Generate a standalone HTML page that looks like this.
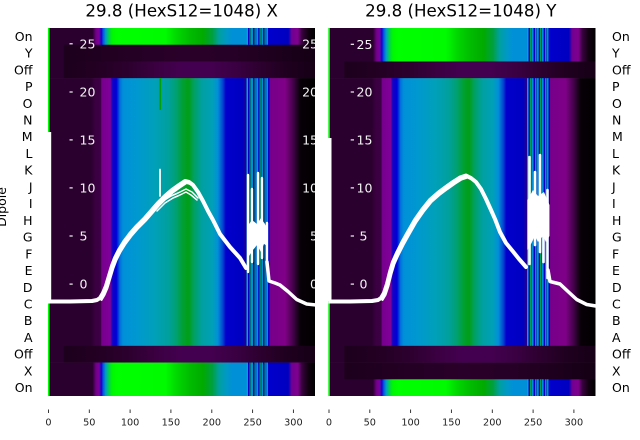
<!DOCTYPE html>
<html><head><meta charset="utf-8">
<style>html,body{margin:0;padding:0;background:#fff;}svg{display:block;}</style>
</head>
<body>
<svg width="640" height="440" viewBox="0 0 640 440" xmlns="http://www.w3.org/2000/svg" font-family="'DejaVu Sans','Liberation Sans',sans-serif">
<defs>
<linearGradient id="gD" x1="0" y1="0" x2="1" y2="0">
<stop offset="0" stop-color="#2a002e"/><stop offset="0.16" stop-color="#2a002e"/>
<stop offset="0.175" stop-color="#3a0040"/><stop offset="0.195" stop-color="#3c0044"/>
<stop offset="0.2" stop-color="#76008c"/><stop offset="0.232" stop-color="#80009a"/>
<stop offset="0.238" stop-color="#1800c0"/><stop offset="0.255" stop-color="#0000d8"/>
<stop offset="0.268" stop-color="#0070dc"/><stop offset="0.28" stop-color="#0090d8"/>
<stop offset="0.33" stop-color="#0098d0"/><stop offset="0.40" stop-color="#00a0b8"/>
<stop offset="0.45" stop-color="#00a09c"/><stop offset="0.48" stop-color="#00a070"/>
<stop offset="0.505" stop-color="#00a030"/><stop offset="0.525" stop-color="#009e18"/>
<stop offset="0.545" stop-color="#00a060"/><stop offset="0.575" stop-color="#00a0a0"/>
<stop offset="0.615" stop-color="#00a0b8"/><stop offset="0.635" stop-color="#0090d8"/>
<stop offset="0.655" stop-color="#0040d0"/><stop offset="0.665" stop-color="#0000cc"/>
<stop offset="0.73" stop-color="#0000c0"/><stop offset="0.74" stop-color="#200090"/>
<stop offset="0.83" stop-color="#76008a"/><stop offset="0.887" stop-color="#800088"/>
<stop offset="0.915" stop-color="#4a0050"/><stop offset="0.944" stop-color="#080008"/>
<stop offset="1" stop-color="#000000"/>
</linearGradient>
<linearGradient id="gOn" x1="0" y1="0" x2="1" y2="0">
<stop offset="0" stop-color="#2a002e"/><stop offset="0.165" stop-color="#2a002e"/>
<stop offset="0.178" stop-color="#700088"/><stop offset="0.19" stop-color="#7c009a"/>
<stop offset="0.198" stop-color="#1000d0"/><stop offset="0.206" stop-color="#0060e0"/>
<stop offset="0.215" stop-color="#00a0c0"/><stop offset="0.228" stop-color="#00d840"/>
<stop offset="0.24" stop-color="#00f800"/><stop offset="0.26" stop-color="#00ff00"/>
<stop offset="0.44" stop-color="#00fa00"/><stop offset="0.48" stop-color="#00d800"/>
<stop offset="0.53" stop-color="#00bc00"/><stop offset="0.58" stop-color="#00aa00"/>
<stop offset="0.615" stop-color="#00a040"/><stop offset="0.64" stop-color="#00a0a0"/>
<stop offset="0.67" stop-color="#0098c8"/><stop offset="0.69" stop-color="#0090d8"/>
<stop offset="0.74" stop-color="#0090d8"/><stop offset="0.83" stop-color="#0000cc"/>
<stop offset="0.9" stop-color="#0000c0"/><stop offset="0.912" stop-color="#700090"/>
<stop offset="0.935" stop-color="#800090"/><stop offset="0.95" stop-color="#3a0040"/>
<stop offset="0.975" stop-color="#100010"/><stop offset="1" stop-color="#000000"/>
</linearGradient>
<linearGradient id="gOff" x1="0" y1="0" x2="1" y2="0">
<stop offset="0" stop-color="#2a002e"/><stop offset="0.055" stop-color="#2a002e"/>
<stop offset="0.06" stop-color="#1c001c"/><stop offset="0.2" stop-color="#240024"/>
<stop offset="0.3" stop-color="#2c002e"/><stop offset="0.4" stop-color="#3a0040"/>
<stop offset="0.5" stop-color="#440050"/><stop offset="0.6" stop-color="#440050"/>
<stop offset="0.7" stop-color="#3a0042"/><stop offset="0.8" stop-color="#2c002e"/>
<stop offset="0.9" stop-color="#1e001e"/><stop offset="1" stop-color="#160016"/>
</linearGradient>
<linearGradient id="gDk" x1="0" y1="0" x2="1" y2="0">
<stop offset="0" stop-color="#2a002e"/><stop offset="0.055" stop-color="#2a002e"/>
<stop offset="0.06" stop-color="#1c001c"/><stop offset="0.3" stop-color="#240024"/>
<stop offset="0.5" stop-color="#290029"/><stop offset="0.7" stop-color="#260026"/>
<stop offset="0.9" stop-color="#1a001a"/><stop offset="1" stop-color="#140014"/>
</linearGradient>
<clipPath id="cL"><rect x="48" y="28" width="267" height="368"/></clipPath>
<clipPath id="cR"><rect x="328.5" y="28" width="267" height="368"/></clipPath>
<g id="st">
<rect x="0" y="0" width="23" height="1" fill="#0000c8"/>
<rect x="0" y="0" width="1.5" height="1" fill="#00a0d8"/>
<rect x="3" y="0" width="1.2" height="1" fill="#00a050"/>
<rect x="4.5" y="0" width="2" height="1" fill="#0090d8"/>
<rect x="8" y="0" width="1.3" height="1" fill="#00a050"/>
<rect x="9.7" y="0" width="2" height="1" fill="#0090d8"/>
<rect x="13" y="0" width="1.3" height="1" fill="#00a050"/>
<rect x="14.8" y="0" width="1.8" height="1" fill="#0090d8"/>
<rect x="18" y="0" width="1.3" height="1" fill="#00a050"/>
<rect x="19.7" y="0" width="1.8" height="1" fill="#0090d8"/>
</g>
</defs>

<!-- Titles -->
<text x="181.7" y="16.5" font-size="16.67" text-anchor="middle" fill="#000">29.8 (HexS12=1048) X</text>
<text x="460.8" y="16.5" font-size="16.67" text-anchor="middle" fill="#000">29.8 (HexS12=1048) Y</text>

<!-- LEFT heatmap -->
<rect x="48.5" y="28" width="266.5" height="17" fill="url(#gOn)"/>
<rect x="48.5" y="44.73" width="266.5" height="17" fill="url(#gDk)"/>
<rect x="48.5" y="61.45" width="266.5" height="17" fill="url(#gOff)"/>
<rect x="48.5" y="78.18" width="266.5" height="267.9" fill="url(#gD)"/>
<rect x="48.5" y="345.82" width="266.5" height="17" fill="url(#gOff)"/>
<rect x="48.5" y="362.55" width="266.5" height="33.45" fill="url(#gOn)"/>
<use href="#st" transform="translate(246.5,28) scale(1,16.73)"/>
<use href="#st" transform="translate(246.5,78.18) scale(1,267.64)"/>
<use href="#st" transform="translate(246.5,362.55) scale(1,33.45)"/>
<rect x="159.5" y="78" width="1.5" height="32" fill="#00a000"/>
<rect x="48" y="28" width="1.6" height="104" fill="#00ff00"/>
<rect x="48" y="132" width="3.2" height="168" fill="#ffffff"/>
<rect x="48" y="300" width="1.6" height="96" fill="#00ff00"/>

<!-- RIGHT heatmap -->
<rect x="329" y="28" width="266.5" height="33.7" fill="url(#gOn)"/>
<rect x="329" y="61.45" width="266.5" height="17" fill="url(#gOff)"/>
<rect x="329" y="78.18" width="266.5" height="267.9" fill="url(#gD)"/>
<rect x="329" y="345.82" width="266.5" height="17" fill="url(#gOff)"/>
<rect x="329" y="362.55" width="266.5" height="17" fill="url(#gDk)"/>
<rect x="329" y="379.27" width="266.5" height="16.73" fill="url(#gOn)"/>
<use href="#st" transform="translate(527,28) scale(1,33.45)"/>
<use href="#st" transform="translate(527,78.18) scale(1,267.64)"/>
<use href="#st" transform="translate(527,379.27) scale(1,16.73)"/>
<rect x="328.3" y="28" width="1.6" height="110" fill="#00ff00"/>
<rect x="328" y="138" width="3.5" height="163" fill="#ffffff"/>
<rect x="328.3" y="301" width="1.6" height="95" fill="#00ff00"/>

<!-- LEFT overlay axis labels -->
<g fill="#f4f4f4" font-size="12.5">
<rect x="69.5" y="43.2" width="3.2" height="1.2"/><text x="79.5" y="48.3">25</text>
<rect x="69.5" y="91.4" width="3.2" height="1.2"/><text x="79.5" y="96.5">20</text>
<rect x="69.5" y="139.3" width="3.2" height="1.2"/><text x="79.5" y="144.4">15</text>
<rect x="69.5" y="187.3" width="3.2" height="1.2"/><text x="79.5" y="192.4">10</text>
<rect x="69.5" y="235.4" width="3.2" height="1.2"/><text x="79.5" y="240.5">5</text>
<rect x="69.5" y="283.5" width="3.2" height="1.2"/><text x="79.5" y="288.6">0</text>
<g clip-path="url(#cL)" text-anchor="end">
<text x="318" y="48.3">25</text><text x="318" y="96.5">20</text><text x="318" y="144.4">15</text>
<text x="318" y="192.4">10</text><text x="318" y="240.5">5</text><text x="318" y="288.6">0</text>
</g>
</g>
<!-- RIGHT overlay axis labels -->
<g fill="#f4f4f4" font-size="12.5">
<rect x="350.7" y="43.7" width="3.3" height="1.2"/><text x="356.5" y="48.8">25</text>
<rect x="350.7" y="91.4" width="3.3" height="1.2"/><text x="356.5" y="96.5">20</text>
<rect x="350.7" y="139.3" width="3.3" height="1.2"/><text x="356.5" y="144.4">15</text>
<rect x="350.7" y="187.3" width="3.3" height="1.2"/><text x="356.5" y="192.4">10</text>
<rect x="350.7" y="235.4" width="3.3" height="1.2"/><text x="359.5" y="240.5">5</text>
<rect x="350.7" y="283.5" width="3.3" height="1.2"/><text x="359.5" y="288.6">0</text>
</g>

<!-- LEFT white curves -->
<path clip-path="url(#cL)" fill="#fff" d="M247.5,226 L252,220 L257,224 L261,218 L267.5,228 L267.5,246 L264,244 L261,252 L257,245 L253,250 L249,256 L247.5,254 Z"/>
<g clip-path="url(#cL)" fill="none" stroke="#fff" stroke-linejoin="round" stroke-linecap="round">
<polyline stroke-width="4" points="48.5,301.5 70,301.5 92,301 97,300 100,298 103,293 106,286 109,276 112,266 115,258 119,250 124,242 130,234 137,226 145,218 152,210 158,203 165,196 172,190 179,185 185,181 189,182 193,185 198,192 203,201 208,211 213,220 220,234 230,247 240,258 246,268"/>
<polyline stroke-width="2" transform="translate(1.5,2)" points="100,298 103,293 106,286 109,276 112,266 115,258 119,250 124,242 130,234 137,226 145,218 152,210 158,203 165,196 172,190 179,185 185,181 189,182 193,185 198,192 203,201 208,211 213,220 220,234 230,247 240,258"/>
<polyline stroke-width="1.5" points="155,209 163,201 171,196 178,193 186,189 192,192 198,198"/>
<polyline stroke-width="1.5" points="157,211 165,203 173,198 180,195 186,192 191,195 197,200"/>
<line x1="160" y1="196" x2="160" y2="169.5" stroke-width="1.8"/>
<path stroke-width="2.4" d="M248,272 L248,175 M252,262 L252,189 M258,264 L258,173 M262,258 L262,178 M267,264 L267,223"/>
<polyline stroke-width="3.5" points="267,262 269,281 275,283 280,285 288,291.5 296.7,299.5 306.7,304 316,305"/>
</g>

<!-- RIGHT white curves -->
<path clip-path="url(#cR)" fill="#fff" d="M527.5,200 L533,190 L538,196 L544,192 L549.5,205 L549.5,236 L546,242 L543,236 L538,242 L535,236 L531,244 L527.5,250 Z"/>
<g clip-path="url(#cR)" fill="none" stroke="#fff" stroke-linejoin="round" stroke-linecap="round">
<polyline stroke-width="4" points="329,301.5 350,301.5 372,301 378,300 381,298 384,293 387,284 390,272 393,262 397,253 402,243 407,234 415,220 422,210 430,200 438,193 446,187 453,182 460,177.5 466,175.5 471,178 476,182 481,189 486,199 491,210 495,219 500,232 506,243 513,251.5 519,259 526,267"/>
<polyline stroke-width="2" transform="translate(1.5,2)" points="381,298 384,293 387,284 390,272 393,262 397,253 402,243 407,234 415,220 422,210 430,200 438,193 446,187 453,182 460,177.5 466,175.5 471,178 476,182 481,189 486,199 491,210 495,219 500,232 506,243 513,251.5 519,259"/>
<path stroke-width="2.6" d="M529.5,264 L529.5,157 M535,245 L535,172 M540,252 L540,155 M543.5,262 L543.5,200 M547.5,278 L547.5,190"/>
<polyline stroke-width="3.5" points="548,270 550,281.5 556,283 560,284 568,291.5 576.7,299.5 586.7,304.5 596,306"/>
</g>

<!-- Row labels -->
<g font-size="12.5" fill="#000" text-anchor="end">
<text x="32.5" y="41">On</text><text x="32.5" y="57.7">Y</text><text x="32.5" y="74.3">Off</text>
<text x="32.5" y="91.1">P</text><text x="32.5" y="107.8">O</text><text x="32.5" y="124.5">N</text>
<text x="32.5" y="141.2">M</text><text x="32.5" y="158">L</text><text x="32.5" y="174.7">K</text>
<text x="32.5" y="191.4">J</text><text x="32.5" y="208.1">I</text><text x="32.5" y="224.9">H</text>
<text x="32.5" y="241.6">G</text><text x="32.5" y="258.3">F</text><text x="32.5" y="275">E</text>
<text x="32.5" y="291.8">D</text><text x="32.5" y="308.5">C</text><text x="32.5" y="325.2">B</text>
<text x="32.5" y="341.9">A</text><text x="32.5" y="358.7">Off</text><text x="32.5" y="375.4">X</text>
<text x="32.5" y="392.1">On</text>
</g>
<g font-size="12.5" fill="#000" text-anchor="start">
<text x="612" y="41">On</text><text x="612" y="57.7">Y</text><text x="612" y="74.3">Off</text>
<text x="612" y="91.1">P</text><text x="612" y="107.8">O</text><text x="612" y="124.5">N</text>
<text x="612" y="141.2">M</text><text x="612" y="158">L</text><text x="612" y="174.7">K</text>
<text x="612" y="191.4">J</text><text x="612" y="208.1">I</text><text x="612" y="224.9">H</text>
<text x="612" y="241.6">G</text><text x="612" y="258.3">F</text><text x="612" y="275">E</text>
<text x="612" y="291.8">D</text><text x="612" y="308.5">C</text><text x="612" y="325.2">B</text>
<text x="612" y="341.9">A</text><text x="612" y="358.7">Off</text><text x="612" y="375.4">X</text>
<text x="612" y="392.1">On</text>
</g>

<text transform="translate(6,207) rotate(-90)" font-size="12.5" text-anchor="middle" fill="#000">Dipole</text>

<!-- X ticks -->
<g stroke="#222" stroke-width="0.9">
<line x1="48.5" y1="409.5" x2="48.5" y2="413"/><line x1="89.3" y1="409.5" x2="89.3" y2="413"/>
<line x1="130.1" y1="409.5" x2="130.1" y2="413"/><line x1="170.9" y1="409.5" x2="170.9" y2="413"/>
<line x1="211.8" y1="409.5" x2="211.8" y2="413"/><line x1="252.6" y1="409.5" x2="252.6" y2="413"/>
<line x1="293.4" y1="409.5" x2="293.4" y2="413"/>
<line x1="329" y1="409.5" x2="329" y2="413"/><line x1="369.8" y1="409.5" x2="369.8" y2="413"/>
<line x1="410.6" y1="409.5" x2="410.6" y2="413"/><line x1="451.4" y1="409.5" x2="451.4" y2="413"/>
<line x1="492.3" y1="409.5" x2="492.3" y2="413"/><line x1="533.1" y1="409.5" x2="533.1" y2="413"/>
<line x1="573.9" y1="409.5" x2="573.9" y2="413"/>
</g>
<g font-size="9.7" fill="#222" text-anchor="middle">
<text x="48.5" y="425.3">0</text><text x="89.3" y="425.3">50</text><text x="130.1" y="425.3">100</text>
<text x="170.9" y="425.3">150</text><text x="211.8" y="425.3">200</text><text x="252.6" y="425.3">250</text>
<text x="293.4" y="425.3">300</text>
<text x="329" y="425.3">0</text><text x="369.8" y="425.3">50</text><text x="410.6" y="425.3">100</text>
<text x="451.4" y="425.3">150</text><text x="492.3" y="425.3">200</text><text x="533.1" y="425.3">250</text>
<text x="573.9" y="425.3">300</text>
</g>
</svg>
</body></html>
